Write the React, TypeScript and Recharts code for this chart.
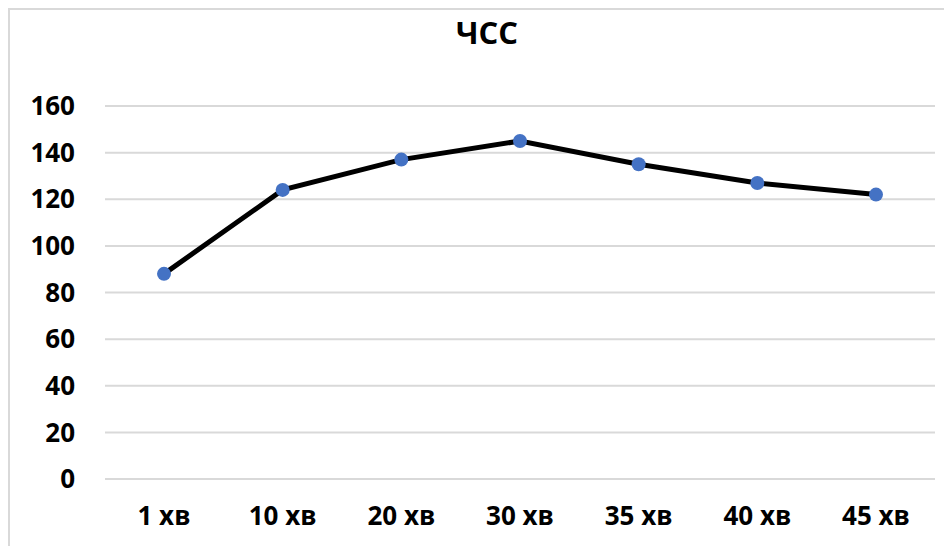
import { LineChart, Line, XAxis, YAxis, CartesianGrid } from "recharts";

const minutes = ["1 хв", "10 хв", "20 хв", "30 хв", "35 хв", "40 хв", "45 хв"];
const heartRate = [88, 124, 137, 145, 135, 127, 122];
const yTicks = [0, 20, 40, 60, 80, 100, 120, 140, 160];

const chartData = minutes.map((m, i) => ({ minute: m, hr: heartRate[i] }));

const FONT = "'Open Sans', 'Noto Sans', sans-serif";

export default function App() {
  return (
    <div
      style={{
        position: "relative",
        width: 942,
        height: 536,
        borderTop: "2px solid #d9d9d9",
        borderLeft: "2px solid #d9d9d9",
        background: "#fff",
        overflow: "hidden",
        fontFamily: FONT,
      }}
    >
      <div
        style={{
          position: "absolute",
          left: 377,
          width: 200,
          top: 2,
          textAlign: "center",
          fontSize: 31,
          fontWeight: 700,
          color: "#000",
          lineHeight: "40px",
        }}
      >
        ЧСС
      </div>
      <LineChart
        width={942}
        height={536}
        data={chartData}
        margin={{ top: 96, right: 17, left: 0, bottom: 0 }}
      >
        <CartesianGrid vertical={false} stroke="#d9d9d9" strokeWidth={2} />
        <XAxis
          dataKey="minute"
          height={67}
          padding={{ left: 59, right: 59 }}
          axisLine={false}
          tickLine={false}
          tickSize={0}
          tickMargin={28}
          interval={0}
          tick={{ fill: "#000", fontSize: 26, fontWeight: 700, fontFamily: FONT }}
        />
        <YAxis
          width={95}
          domain={[0, 160]}
          ticks={yTicks}
          axisLine={false}
          tickLine={false}
          tickSize={0}
          tickMargin={30}
          tick={{ fill: "#000", fontSize: 26, fontWeight: 700, fontFamily: FONT }}
        />
        <Line
          type="linear"
          dataKey="hr"
          stroke="#000"
          strokeWidth={5}
          dot={{ r: 7, fill: "#4472c4", stroke: "none" }}
          activeDot={false}
          isAnimationActive={false}
        />
      </LineChart>
    </div>
  );
}
